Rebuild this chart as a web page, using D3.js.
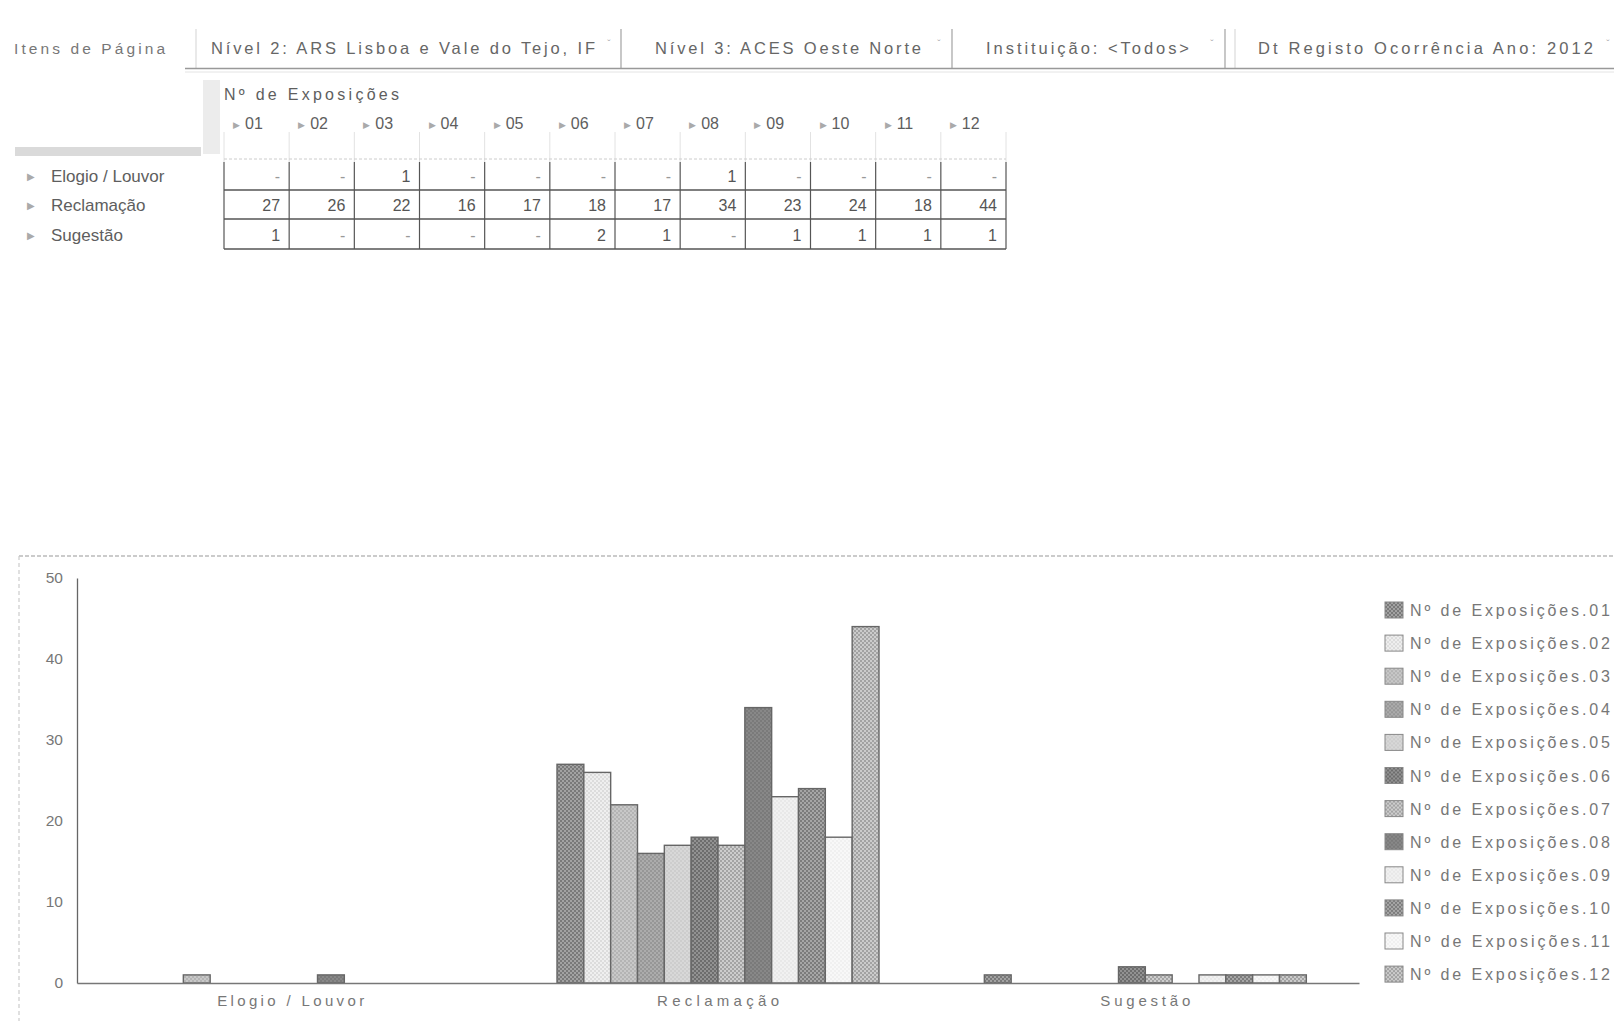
<!DOCTYPE html>
<html><head><meta charset="utf-8">
<script src="https://cdn.jsdelivr.net/npm/d3@7"></script>
<style>
html,body{margin:0;padding:0;background:#fff;}
svg{display:block;font-family:"Liberation Sans",Arial,sans-serif;}
</style></head>
<body><svg id="c" width="1614" height="1021"></svg>
<script>
// ---- data ----
const pageItemsLabel = "Itens de Página";
const filterLabels = ["Nível 2:  ARS Lisboa e Vale do Tejo, IF", "Nível 3:  ACES Oeste Norte", "Instituição:  <Todos>", "Dt Registo Ocorrência Ano:  2012"];
const measureLabel = "Nº de Exposições";
const categories = ["Elogio / Louvor", "Reclamação", "Sugestão"];
const months = ["01","02","03","04","05","06","07","08","09","10","11","12"];
const elogioValues     = [null,null,1,null,null,null,null,1,null,null,null,null];
const reclamacaoValues = [27,26,22,16,17,18,17,34,23,24,18,44];
const sugestaoValues   = [1,null,null,null,null,2,1,null,1,1,1,1];
const yTicks = [0,10,20,30,40,50];
const seriesFills = ["#a2a2a2","#efefef","#c8c8c8","#acacac","#d8d8d8","#929292","#cdcdcd","#888888","#f1f1f1","#a6a6a6","#f8f8f8","#cbcbcb"];
const seriesHatch = [0.25,0.08,0.1,0.12,0.05,0.25,0.2,0.1,0.04,0.25,0.03,0.2];

const rows = [elogioValues, reclamacaoValues, sugestaoValues];
const svg = d3.select("#c");
const grayText = "#5e5e5e";

// patterns
const defs = svg.append("defs");
months.forEach((m,i)=>{
  const p = defs.append("pattern").attr("id","pat"+i).attr("patternUnits","userSpaceOnUse")
    .attr("width",4).attr("height",4);
  p.append("rect").attr("width",4).attr("height",4).attr("fill",seriesFills[i]);
  p.append("rect").attr("x",0).attr("y",0).attr("width",2).attr("height",2).attr("fill","#000").attr("opacity",seriesHatch[i]);
  p.append("rect").attr("x",2).attr("y",2).attr("width",2).attr("height",2).attr("fill","#000").attr("opacity",seriesHatch[i]);
});

// ---- page filter bar ----
const bar = svg.append("g");
bar.append("text").attr("x",14).attr("y",54).attr("font-size",15.5).attr("fill","#777")
  .attr("textLength",151).attr("lengthAdjust","spacing").text(pageItemsLabel);
const fx = [211,655,986,1258], fw=[384,266,203,335], arrowX=[609,939,1212,1608], sepX=[196,621,952,1225,1235];
filterLabels.forEach((t,i)=>{
  bar.append("text").attr("x",fx[i]).attr("y",54).attr("font-size",16.5).attr("fill","#666")
    .attr("textLength",fw[i]).attr("lengthAdjust","spacing").text(t);
  bar.append("text").attr("x",arrowX[i]).attr("y",48).attr("font-size",10).attr("fill","#aaa").attr("text-anchor","middle").text("ˇ");
});
sepX.forEach((x,i)=>{
  bar.append("line").attr("x1",x).attr("x2",x).attr("y1",29).attr("y2",68)
    .attr("stroke", i===0||i===4 ? "#ddd" : "#aaa").attr("stroke-width",1.3);
});
bar.append("line").attr("x1",185).attr("x2",1614).attr("y1",68.5).attr("y2",68.5).attr("stroke","#999").attr("stroke-width",1.5);
bar.append("line").attr("x1",185).attr("x2",1614).attr("y1",72).attr("y2",72).attr("stroke","#e4e4e4").attr("stroke-width",1);

// ---- pivot table ----
const tbl = svg.append("g");
const colX = d3.scaleBand().domain(months).range([224,1006]);
const cw = colX.bandwidth();
tbl.append("rect").attr("x",203).attr("y",80).attr("width",17).attr("height",74).attr("fill","#ececec");
tbl.append("rect").attr("x",15).attr("y",147).attr("width",186).attr("height",9).attr("fill","#dadada");
tbl.append("text").attr("x",224).attr("y",100).attr("font-size",16).attr("fill",grayText)
  .attr("textLength",175).attr("lengthAdjust","spacing").text(measureLabel);
months.forEach(m=>{
  const x = colX(m);
  tbl.append("text").attr("x",x+9).attr("y",128).attr("font-size",9).attr("fill","#aaa").text("▶");
  tbl.append("text").attr("x",x+21).attr("y",129).attr("font-size",16).attr("fill",grayText).text(m);
});
// grid
const rowY = [162,190,219,249];
colX.domain().concat(["end"]).forEach((m,i)=>{
  const x = 224 + i*cw;
  tbl.append("line").attr("x1",x).attr("x2",x).attr("y1",132).attr("y2",162).attr("stroke","#e2e2e2");
  tbl.append("line").attr("x1",x).attr("x2",x).attr("y1",162).attr("y2",249).attr("stroke","#555").attr("stroke-width",1.2);
});
tbl.append("line").attr("x1",224).attr("x2",1006).attr("y1",159).attr("y2",159).attr("stroke","#ccc").attr("stroke-dasharray","3,2");
rowY.slice(1).forEach(y=>{
  tbl.append("line").attr("x1",224).attr("x2",1006).attr("y1",y).attr("y2",y).attr("stroke","#555").attr("stroke-width",1.3);
});
const rowTextY = [182,211,241];
categories.forEach((c,r)=>{
  tbl.append("text").attr("x",27).attr("y",rowTextY[r]-2).attr("font-size",10).attr("fill","#aaa").text("▶");
  tbl.append("text").attr("x",51).attr("y",rowTextY[r]).attr("font-size",17).attr("fill",grayText).text(c);
  rows[r].forEach((v,j)=>{
    tbl.append("text").attr("x",colX(months[j])+cw-9).attr("y",rowTextY[r]).attr("text-anchor","end")
      .attr("font-size",16).attr("fill",v==null?"#999":"#555").text(v==null?"-":v);
  });
});

// ---- chart frame ----
svg.append("line").attr("x1",19).attr("x2",1614).attr("y1",556).attr("y2",556).attr("stroke","#bbb").attr("stroke-dasharray","4,2").attr("stroke-width",1.5);
svg.append("line").attr("x1",19).attr("x2",19).attr("y1",556).attr("y2",1021).attr("stroke","#ccc").attr("stroke-dasharray","4,3").attr("stroke-width",1.2);

// ---- bar chart ----
const y = d3.scaleLinear().domain([0,50]).range([983,578]);
const x0 = d3.scaleBand().domain(categories).range([77,1359]);
const gw = x0.bandwidth()*0.7535;
const x1 = d3.scaleBand().domain(months).range([0,gw]);
const chart = svg.append("g");

categories.forEach((c,r)=>{
  const gx = x0(c) + (x0.bandwidth()-gw)/2;
  rows[r].forEach((v,j)=>{
    if(v==null) return;
    chart.append("rect").attr("x",gx+x1(months[j])).attr("y",y(v)).attr("width",x1.bandwidth()).attr("height",y(0)-y(v))
      .attr("fill","url(#pat"+j+")").attr("stroke","#666").attr("stroke-width",1.4);
  });
});

const yAxis = chart.append("g").attr("transform","translate(77,0)")
  .call(d3.axisLeft(y).tickValues(yTicks).tickSize(0).tickPadding(14));
yAxis.select(".domain").attr("stroke","#666").attr("stroke-width",1.3);
yAxis.selectAll("text").attr("font-size",15.5).attr("fill","#777").attr("font-family","Liberation Sans, Arial, sans-serif");

const xAxis = chart.append("g").attr("transform","translate(0,983)")
  .call(d3.axisBottom(x0).tickSize(0).tickPadding(12).tickSizeOuter(0));
xAxis.select(".domain").attr("stroke","#777").attr("stroke-width",1.3);
const labelW = {"Elogio / Louvor":147,"Reclamação":122,"Sugestão":90};
xAxis.selectAll("text").attr("font-size",15).attr("fill","#777").attr("font-family","Liberation Sans, Arial, sans-serif")
  .attr("textLength",d=>labelW[d]).attr("lengthAdjust","spacing");

// legend
const lg = svg.append("g").attr("transform","translate(1385,602)");
months.forEach((m,i)=>{
  const g = lg.append("g").attr("transform",`translate(0,${i*33.1})`);
  g.append("rect").attr("width",18).attr("height",16).attr("fill","url(#pat"+i+")").attr("stroke","#888").attr("stroke-width",1);
  g.append("text").attr("x",25).attr("y",14).attr("font-size",16).attr("fill","#777")
    .attr("textLength",200).attr("lengthAdjust","spacing").text(measureLabel+"."+m);
});
</script></body></html>
